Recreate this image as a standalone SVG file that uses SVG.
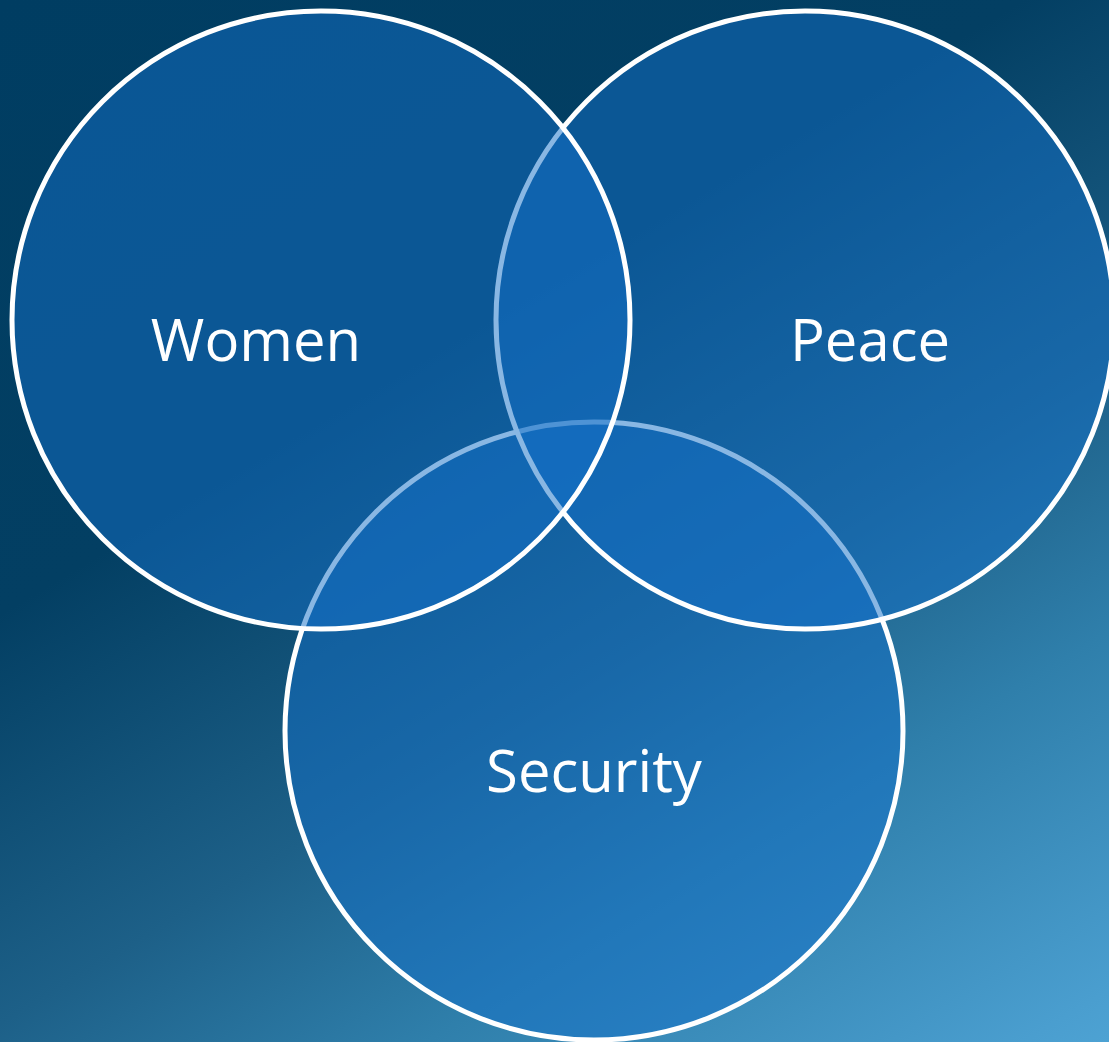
<svg xmlns="http://www.w3.org/2000/svg" width="1109" height="1042" viewBox="0 0 1109 1042">
  <defs>
    <linearGradient id="bg" gradientUnits="userSpaceOnUse" x1="0" y1="0" x2="753" y2="1255">
      <stop offset="0" stop-color="#003d62"/>
      <stop offset="0.36" stop-color="#033f63"/>
      <stop offset="0.6" stop-color="#1d6088"/>
      <stop offset="0.76" stop-color="#2f7fab"/>
      <stop offset="0.97" stop-color="#4a9ecf"/>
      <stop offset="1" stop-color="#4da2d3"/>
    </linearGradient>
    <style>
      .venn { fill: #146fc8; fill-opacity: 0.5; stroke: #ffffff; stroke-width: 5; }
      .label { font-family: "Open Sans", "Noto Sans", "Liberation Sans", sans-serif; font-size: 58px; fill: #ffffff; text-anchor: middle; }
    </style>
  </defs>
  <rect x="0" y="0" width="1109" height="1042" fill="url(#bg)"/>
  <g id="node-security">
    <circle class="venn" cx="594" cy="731" r="309"/>
    <text class="label" x="594" y="792">Security</text>
  </g>
  <g id="node-peace">
    <circle class="venn" cx="805" cy="320" r="309"/>
    <text class="label" x="870" y="361">Peace</text>
  </g>
  <g id="node-women">
    <circle class="venn" cx="321" cy="320" r="309"/>
    <text class="label" x="256" y="361">Women</text>
  </g>
</svg>
